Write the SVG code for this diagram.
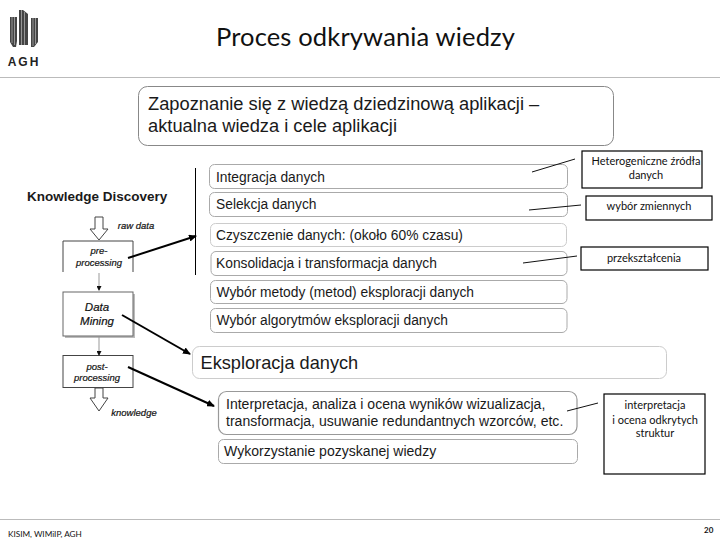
<svg xmlns="http://www.w3.org/2000/svg" width="720" height="540" viewBox="0 0 720 540">
<style>
.s{font-family:"Liberation Sans",Arial,sans-serif;fill:#1a1a1a}
.l{font-family:Lato,"Liberation Sans",sans-serif;fill:#111}
.i{font-style:italic;font-size:9.500px;text-anchor:middle;font-family:"Liberation Sans",Arial,sans-serif;fill:#111;stroke:#111;stroke-width:.2}
.step{fill:#fff;stroke:#aaa;stroke-width:1}
.call{fill:#fff;stroke:#000;stroke-width:1.2}
.ct{font-size:11px;text-anchor:middle}
.t13{font-size:13.800px}
.t14{font-size:14.050px}
.thin{stroke:#111;stroke-width:1;fill:none}
.thick{stroke:#000;stroke-width:2;fill:none;marker-end:url(#ah)}
.small{stroke:#999;stroke-width:1;fill:none;marker-end:url(#as)}
.hollow{fill:#fff;stroke:#444;stroke-width:1}
.flow{fill:#fff;stroke:#444;stroke-width:1}
</style>
<defs>
<marker id="ah" markerWidth="8" markerHeight="7" refX="7" refY="3.500" orient="auto" markerUnits="userSpaceOnUse"><path d="M0 0L8 3.500L0 7z" fill="#000"/></marker>
<marker id="as" markerWidth="5" markerHeight="5" refX="4" refY="2.500" orient="auto" markerUnits="userSpaceOnUse"><path d="M0 0L5 2.500L0 5z" fill="#111"/></marker>
</defs>
<rect width="720" height="540" fill="#fff"/>
<g id="logo" fill="#444">
<path d="M10 17h7v24l-1 6h-3l-3-5z"/>
<path d="M19 10h4l5 4v31h-9z"/>
<path d="M31 18h7v24l-4 5h-3z"/>
<path d="M12 17v26M14.500 17v28M21.500 10v35M24.500 12v33M33 18v28M35.500 18v26" stroke="#ccc" stroke-width=".6"/>
<text x="24" y="66" font-family="'Liberation Sans',Arial,sans-serif" font-weight="700" font-size="12" letter-spacing="2" text-anchor="middle" fill="#222">AGH</text>
</g>
<line x1="0" y1="77.500" x2="720" y2="77.500" stroke="#bbb" stroke-width="1"/>
<line x1="0" y1="519.500" x2="720" y2="519.500" stroke="#bbb" stroke-width="1"/>
<text id="title" class="l" x="365.500" y="46" font-size="25.500" letter-spacing=".15" text-anchor="middle">Proces odkrywania wiedzy</text>
<g id="n-zapoznanie"><rect class="step" style="stroke:#888" x="138.500" y="86.500" width="475" height="59" rx="9"/><text class="s" x="148" y="110" font-size="18.300">Zapoznanie się z wiedzą dziedzinową aplikacji –</text><text class="s" x="148" y="132" font-size="18.300">aktualna wiedza i cele aplikacji</text></g>
<g id="n-integracja"><rect class="step" x="209.500" y="164.500" width="358" height="24" rx="5"/><text class="s t13" x="216" y="182">Integracja danych</text></g>
<g id="n-selekcja"><rect class="step" x="209.500" y="192.500" width="358" height="24" rx="5"/><text class="s t13" x="216" y="209">Selekcja danych</text></g>
<g id="n-czyszczenie"><rect class="step" style="stroke:#ccc" x="210.500" y="223.500" width="356" height="23" rx="5"/><text class="s t13" x="216" y="240">Czyszczenie danych: (około 60% czasu)</text></g>
<g id="n-konsolidacja"><rect class="step" x="211" y="251.500" width="356" height="24" rx="5"/><text class="s t13" x="216" y="268">Konsolidacja i transformacja danych</text></g>
<g id="n-metody"><rect class="step" x="210.500" y="280.500" width="356.500" height="23" rx="5"/><text class="s t13" x="216.500" y="297">Wybór metody (metod) eksploracji danych</text></g>
<g id="n-algorytmy"><rect class="step" x="210.500" y="308.500" width="356.500" height="24" rx="5"/><text class="s t13" x="216.500" y="325">Wybór algorytmów eksploracji danych</text></g>
<g id="n-eksploracja"><rect class="step" style="stroke:#ccc" x="192.500" y="346.500" width="474" height="32" rx="7"/><text class="s" x="200.500" y="369" font-size="18.200">Eksploracja danych</text></g>
<g id="n-interpretacja"><rect class="step" style="stroke:#999;stroke-width:1.200" x="218.500" y="391.500" width="358.500" height="43" rx="8"/><text class="s t14" x="226" y="409">Interpretacja, analiza i ocena wyników wizualizacja,</text><text class="s t14" x="226" y="426">transformacja, usuwanie redundantnych wzorców, etc.</text></g>
<g id="n-wykorzystanie"><rect class="step" x="218.500" y="439.500" width="359" height="24" rx="5"/><text class="s t14" x="224" y="456">Wykorzystanie pozyskanej wiedzy</text></g>
<g id="c-heterogeniczne"><rect class="call" x="582" y="151" width="120" height="37"/><text class="l ct" x="646" y="165">Heterogeniczne źródła</text><text class="l ct" x="646" y="179">danych</text></g>
<g id="c-wybor"><rect class="call" x="586" y="196" width="126" height="24"/><text class="l ct" x="649" y="210">wybór zmiennych</text></g>
<g id="c-przeksztalcenia"><rect class="call" x="581" y="247" width="127" height="23"/><text class="l ct" x="644" y="262">przekształcenia</text></g>
<g id="c-interpretacja"><rect class="call" x="604" y="394" width="101" height="80"/><text class="l ct" x="655" y="409">interpretacja</text><text class="l ct" x="655" y="424">i ocena odkrytych</text><text class="l ct" x="655" y="437">struktur</text></g>
<g id="kd-title"><text class="s" x="27" y="201" font-size="13.500" font-weight="700">Knowledge Discovery</text></g>
<g id="n-pre"><path class="flow" d="M63 272V241H133V272"/><text class="i" x="99" y="254">pre-</text><text class="i" x="99" y="266">processing</text></g>
<g id="n-dm"><rect x="65" y="294" width="70" height="44" fill="#bbb"/><rect class="flow" style="stroke:#666" x="63" y="292" width="70" height="44"/><text class="i" x="97" y="311" style="font-size:11.500px">Data</text><text class="i" x="97" y="325" style="font-size:11.500px">Mining</text></g>
<g id="n-post"><rect class="flow" x="63" y="355.500" width="70" height="32"/><text class="i" x="97" y="370">post-</text><text class="i" x="97" y="381">processing</text></g>
<text class="i" x="136" y="229">raw data</text>
<text class="i" x="134" y="416">knowledge</text>
<g id="connectors">
<path class="hollow" d="M95 217H103V229H108L99 240L90 229H95z"/>
<path class="hollow" d="M95 388H103V398H108L99 411L90 398H95z"/>
<line class="small" x1="99" y1="273" x2="99" y2="290"/>
<line class="small" x1="99" y1="337" x2="99" y2="355"/>
<line x1="195.500" y1="168" x2="195.500" y2="275" stroke="#000" stroke-width="1"/>
<line class="thick" x1="128" y1="258" x2="196" y2="236"/>
<line class="thick" x1="122" y1="315" x2="190" y2="354"/>
<line class="thick" x1="128" y1="367" x2="214" y2="406"/>
<line class="thin" x1="532" y1="172" x2="575" y2="159"/>
<line class="thin" x1="529" y1="210" x2="581" y2="205"/>
<line class="thin" x1="523" y1="263" x2="577" y2="256"/>
<line class="thin" x1="567" y1="411" x2="598" y2="403"/>
</g>
<text id="footer" class="l" x="8" y="537" font-size="8.200">KISIM, WIMiIP, AGH</text>
<text id="page" class="l" x="704" y="533" font-size="8" font-weight="700">20</text>
</svg>
